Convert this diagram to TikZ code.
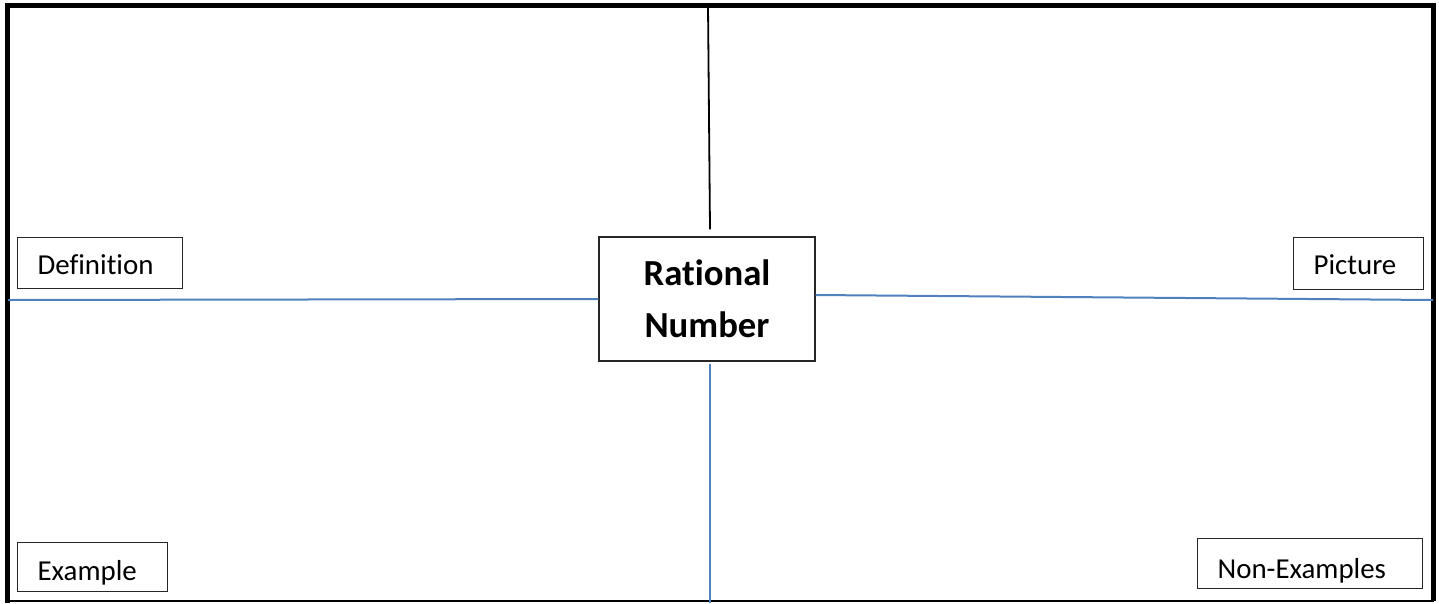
\documentclass[tikz,border=0pt]{standalone}
\usepackage{fontspec}
\setmainfont{Carlito}[Ligatures=NoCommon]
\definecolor{linkblue}{HTML}{4F81BD}

\begin{document}
\begin{tikzpicture}[x=1pt, y=-1pt,
    lbl/.style={draw=black!85, line width=1.2pt, anchor=north west, inner xsep=20pt, inner ysep=0pt,
        align=left, text height=18.6pt, text depth=0pt, font=\fontsize{28.9}{34}\selectfont},
    blueline/.style={draw=linkblue, line width=2pt}]
        \useasboundingbox (0,0) rectangle (1439,603);
        % frame, open thin at the bottom
        \coordinate (fbl) at (7.5,603);
        \coordinate (ftl) at (7.5,5.8);
        \coordinate (ftr) at (1433.7,5.8);
        \coordinate (fbr) at (1433.7,601);
        \draw[line width=5pt] (fbl)--(ftl)--(ftr)--(fbr);
        \draw[line width=1.5pt] (7.5,601)--(fbr);
        % the four corner labels
        \foreach \n/\x/\y/\tw/\h/\dy/\t in {defn/17/237/125/51/-2/Definition, pict/1293/237/90/52/-2/Picture,
            exmp/17/542/110/49/-4.5/Example, nonex/1197/538/185/50/-5.5/Non-Examples} {
            \node[lbl, text width=\tw pt, minimum height=\h pt] (\n) at (\x,\y) {\raisebox{\dy pt}{\t}};
        }
        \node[draw=black!85, line width=1.2pt, minimum width=216pt, minimum height=124pt, align=center,
            font=\bfseries\fontsize{36.7}{52}\selectfont] (rn) at (707,299) {Rational\\Number};
        \coordinate (ltop) at (708,6);
        \coordinate (lleft) at (8,300);
        \coordinate (lright) at (1433,300);
        \coordinate (lbot) at (710,603);
        \draw[line width=1.8pt] (ltop)--([shift={(3,-7)}]rn.north);
        \draw[blueline] (lleft)--(rn.west);
        \draw[blueline] ([yshift=4pt]rn.east)--(lright);
        \draw[blueline] ([shift={(3,2)}]rn.south)--(lbot);
    \end{tikzpicture}
\end{document}
